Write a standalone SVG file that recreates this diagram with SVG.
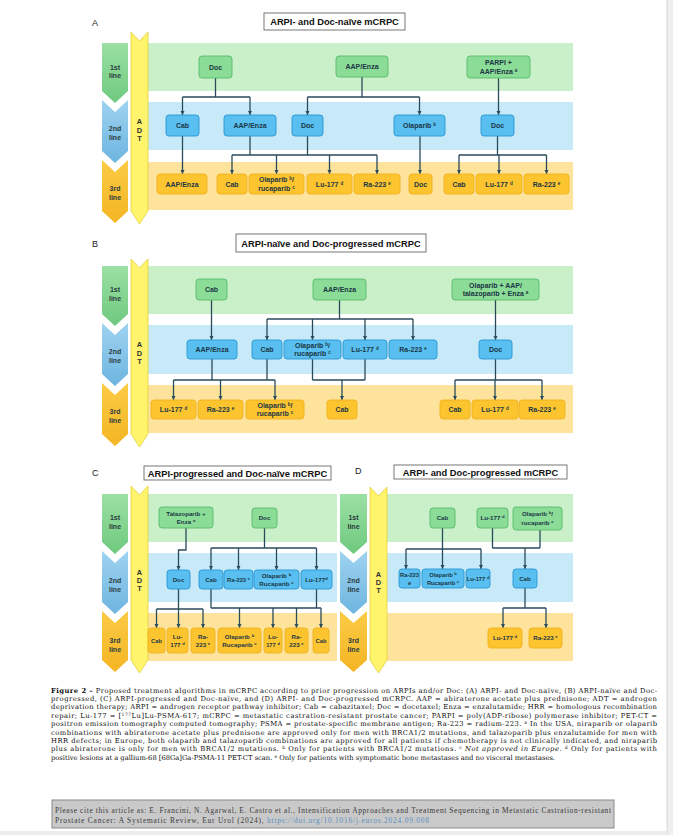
<svg xmlns="http://www.w3.org/2000/svg" width="673" height="835" viewBox="0 0 673 835">
<defs>
<marker id="ah" viewBox="0 0 6 6" refX="6" refY="3" markerWidth="4.5" markerHeight="4.5" markerUnits="userSpaceOnUse" orient="auto"><path d="M0,0 L6,3 L0,6 Z" fill="#2a4b5b"/></marker>
<linearGradient id="gg" x1="0" y1="0" x2="0" y2="1"><stop offset="0" stop-color="#9be0a4"/><stop offset="1" stop-color="#6fc97e"/></linearGradient>
<linearGradient id="gb" x1="0" y1="0" x2="0" y2="1"><stop offset="0" stop-color="#9fd3f0"/><stop offset="1" stop-color="#6db5e0"/></linearGradient>
<linearGradient id="go" x1="0" y1="0" x2="0" y2="1"><stop offset="0" stop-color="#fbcb45"/><stop offset="1" stop-color="#f4b523"/></linearGradient>
<style>
.bgg{fill:#c9f0c9}.bgb{fill:#c7e9f8}.bgo{fill:#fde39c}
.cg{fill:url(#gg)}.cb{fill:url(#gb)}.co{fill:url(#go)}
.adt{fill:#fff46c;stroke:#e2cf3e;stroke-width:0.8}
.ng{fill:#8bdc97;stroke:#58bb6a;stroke-width:0.9}
.nb{fill:#58bff0;stroke:#2996d3;stroke-width:0.9}
.no{fill:#fcc52f;stroke:#efb220;stroke-width:0.9}
.t{font-family:"Liberation Sans",Arial,sans-serif;font-size:7px;font-weight:bold;fill:#1c3745;text-anchor:middle}
.t2{font-family:"Liberation Sans",Arial,sans-serif;font-size:6.2px;font-weight:bold;fill:#1c3745;text-anchor:middle}
.t3{font-family:"Liberation Sans",Arial,sans-serif;font-size:5.8px;font-weight:bold;fill:#1c3745;text-anchor:middle}
.lab{font-family:"Liberation Sans",Arial,sans-serif;font-size:7px;font-weight:bold;fill:#2b3b3f;text-anchor:middle}
.adtt{font-family:"Liberation Sans",Arial,sans-serif;font-size:7.4px;font-weight:bold;fill:#333;text-anchor:middle}
.ttl{font-family:"Liberation Sans",Arial,sans-serif;font-size:9.3px;font-weight:bold;fill:#111;text-anchor:middle}
.tbox{fill:#fff;stroke:#555;stroke-width:0.8}
.pl{font-family:"Liberation Sans",Arial,sans-serif;font-size:9px;fill:#222}
.ln{fill:none;stroke:#2a4b5b;stroke-width:1.3}
.ar{fill:none;stroke:#2a4b5b;stroke-width:1.3;marker-end:url(#ah)}
.cap{font-family:"DejaVu Serif",serif;font-size:6.8px;fill:#0d0d0d}
.cit{font-family:"Liberation Serif",serif;font-size:7.4px;fill:#3a3a3a}
.lnk{fill:#5b8fc2}
</style>
</defs>
<rect width="673" height="835" fill="#ffffff"/>
<rect x="667" y="0" width="6" height="835" fill="#efefef"/>
<line x1="667" y1="0" x2="667" y2="835" stroke="#d6d6d6" stroke-width="1"/>
<rect x="0" y="831" width="667" height="4" fill="#ececec"/>

<!-- ============ PANEL A ============ -->
<g id="panelA-frame">
<text class="pl" x="92" y="26">A</text>
<rect class="tbox" x="264" y="13" width="141" height="17"/>
<text class="ttl" x="334.5" y="25">ARPI- and Doc-naïve mCRPC</text>
<rect class="bgg" x="140" y="43" width="433" height="48"/>
<rect class="bgb" x="140" y="102" width="433" height="48"/>
<rect class="bgo" x="140" y="162" width="433" height="48"/>
<path class="cg" d="M102,43 H128 V91 L115,103 L102,91 Z"/>
<path class="cb" d="M102,100 L115,112 L128,100 V151 L115,163 L102,151 Z"/>
<path class="co" d="M102,160 L115,172 L128,160 V211 L115,223 L102,211 Z"/>
<text class="lab" x="115" y="69.5">1st</text><text class="lab" x="115" y="78">line</text>
<text class="lab" x="115" y="130.5">2nd</text><text class="lab" x="115" y="139.5">line</text>
<text class="lab" x="115" y="190.5">3rd</text><text class="lab" x="115" y="199.5">line</text>
<path class="adt" d="M131,32 L139.5,41 L148,32 V211 L139.5,224 L131,211 Z"/>
<text class="adtt" x="139.5" y="124">A</text><text class="adtt" x="139.5" y="132.5">D</text><text class="adtt" x="139.5" y="141">T</text>
</g>
<g id="panelA-connectors">
<path class="ln" d="M215.5,78 V97 M182.5,97 H250"/>
<path class="ar" d="M182.5,97 V115"/><path class="ar" d="M250,97 V115"/>
<path class="ln" d="M362,77 V97 M307.5,97 H419.5"/>
<path class="ar" d="M307.5,97 V115"/><path class="ar" d="M419.5,97 V115"/>
<path class="ar" d="M498.5,78 V115"/>
<path class="ar" d="M182.5,136 V174"/>
<path class="ln" d="M250,136 V155 M307.5,136 V155 M232,155 H377"/>
<path class="ar" d="M232,155 V174"/><path class="ar" d="M276.5,155 V174"/><path class="ar" d="M329.5,155 V174"/><path class="ar" d="M377,155 V174"/>
<path class="ar" d="M420,136 V174"/>
<path class="ln" d="M497.5,136 V155 M459,155 H546.5"/>
<path class="ar" d="M459,155 V174"/><path class="ar" d="M499,155 V174"/><path class="ar" d="M546.5,155 V174"/>
</g>
<g id="a1-doc"><rect class="ng" x="199" y="56" width="33" height="22" rx="3"/><text class="t" x="215.5" y="69.5">Doc</text></g>
<g id="a1-aapenza"><rect class="ng" x="336" y="56" width="52" height="21" rx="3"/><text class="t" x="362" y="69">AAP/Enza</text></g>
<g id="a1-parpi"><rect class="ng" x="467" y="56" width="63" height="22" rx="3"/><text class="t" x="498.5" y="65.3">PARPI +</text><text class="t" x="498.5" y="74">AAP/Enza <tspan font-size="4.5" baseline-shift="super">a</tspan></text></g>
<g id="a2-cab"><rect class="nb" x="166" y="115" width="33" height="21" rx="3"/><text class="t" x="182.5" y="128">Cab</text></g>
<g id="a2-aapenza"><rect class="nb" x="224" y="115" width="52" height="21" rx="3"/><text class="t" x="250" y="128">AAP/Enza</text></g>
<g id="a2-doc"><rect class="nb" x="292" y="115" width="31" height="21" rx="3"/><text class="t" x="307.5" y="128">Doc</text></g>
<g id="a2-olaparib"><rect class="nb" x="394" y="115" width="51" height="21" rx="3"/><text class="t" x="419.5" y="128">Olaparib <tspan font-size="4.5" baseline-shift="super">b</tspan></text></g>
<g id="a2-doc2"><rect class="nb" x="481" y="115" width="33" height="21" rx="3"/><text class="t" x="497.5" y="128">Doc</text></g>
<g id="a3-aapenza"><rect class="no" x="157" y="174" width="50" height="20" rx="3"/><text class="t" x="182" y="186.5">AAP/Enza</text></g>
<g id="a3-cab"><rect class="no" x="217" y="174" width="30" height="20" rx="3"/><text class="t" x="232" y="186.5">Cab</text></g>
<g id="a3-olaruca"><rect class="no" x="249" y="174" width="55" height="20" rx="3"/><text class="t" x="276.5" y="182.3">Olaparib <tspan font-size="4.5" baseline-shift="super">b</tspan>/</text><text class="t" x="276.5" y="190.8">rucaparib <tspan font-size="4.5" baseline-shift="super">c</tspan></text></g>
<g id="a3-lu"><rect class="no" x="307" y="174" width="45" height="20" rx="3"/><text class="t" x="329.5" y="186.5">Lu-177 <tspan font-size="4.5" baseline-shift="super">d</tspan></text></g>
<g id="a3-ra"><rect class="no" x="354" y="174" width="46" height="20" rx="3"/><text class="t" x="377" y="186.5">Ra-223 <tspan font-size="4.5" baseline-shift="super">e</tspan></text></g>
<g id="a3-doc"><rect class="no" x="409" y="174" width="23" height="20" rx="3"/><text class="t" x="420.5" y="186.5">Doc</text></g>
<g id="a3-cab2"><rect class="no" x="444" y="174" width="30" height="20" rx="3"/><text class="t" x="459" y="186.5">Cab</text></g>
<g id="a3-lu2"><rect class="no" x="476" y="174" width="46" height="20" rx="3"/><text class="t" x="499" y="186.5">Lu-177 <tspan font-size="4.5" baseline-shift="super">d</tspan></text></g>
<g id="a3-ra2"><rect class="no" x="524" y="174" width="45" height="20" rx="3"/><text class="t" x="546.5" y="186.5">Ra-223 <tspan font-size="4.5" baseline-shift="super">e</tspan></text></g>

<!-- ============ PANEL B ============ -->
<g id="panelB-frame">
<text class="pl" x="92" y="247">B</text>
<rect class="tbox" x="236" y="234" width="190" height="18"/>
<text class="ttl" x="331" y="246.5">ARPI-naïve and Doc-progressed mCRPC</text>
<rect class="bgg" x="140" y="266" width="433" height="48"/>
<rect class="bgb" x="140" y="325" width="433" height="49"/>
<rect class="bgo" x="140" y="385" width="433" height="48"/>
<path class="cg" d="M102,266 H128 V314 L115,326 L102,314 Z"/>
<path class="cb" d="M102,323 L115,335 L128,323 V374 L115,386 L102,374 Z"/>
<path class="co" d="M102,383 L115,395 L128,383 V434 L115,446 L102,434 Z"/>
<text class="lab" x="115" y="291.5">1st</text><text class="lab" x="115" y="300.5">line</text>
<text class="lab" x="115" y="353.5">2nd</text><text class="lab" x="115" y="363">line</text>
<text class="lab" x="115" y="413.5">3rd</text><text class="lab" x="115" y="423">line</text>
<path class="adt" d="M131,259 L139.5,268 L148,259 V434 L139.5,447 L131,434 Z"/>
<text class="adtt" x="139.5" y="347">A</text><text class="adtt" x="139.5" y="355.5">D</text><text class="adtt" x="139.5" y="364">T</text>
</g>
<g id="panelB-connectors">
<path class="ar" d="M211.5,300 V340"/>
<path class="ln" d="M339.5,300 V319 M267,319 H413"/>
<path class="ar" d="M267,319 V340"/><path class="ar" d="M312.5,319 V340"/><path class="ar" d="M365,319 V340"/><path class="ar" d="M413,319 V340"/>
<path class="ar" d="M495.5,300 V340"/>
<path class="ln" d="M212,359 V380 M267,359 V380 M173.5,380 H275"/>
<path class="ar" d="M173.5,380 V400"/><path class="ar" d="M220.5,380 V400"/><path class="ar" d="M275,380 V400"/>
<path class="ln" d="M312.5,359 V380 M365,359 V380 M312.5,380 H365"/>
<path class="ar" d="M342,380 V400"/>
<path class="ln" d="M495.5,359 V380 M455,380 H542"/>
<path class="ar" d="M455,380 V400"/><path class="ar" d="M495,380 V400"/><path class="ar" d="M542,380 V400"/>
</g>
<g id="b1-cab"><rect class="ng" x="196" y="279" width="31" height="21" rx="3"/><text class="t" x="211.5" y="292">Cab</text></g>
<g id="b1-aapenza"><rect class="ng" x="313" y="279" width="53" height="21" rx="3"/><text class="t" x="339.5" y="292">AAP/Enza</text></g>
<g id="b1-olaaap"><rect class="ng" x="452" y="279" width="87" height="21" rx="3"/><text class="t" x="495.5" y="287.6">Olaparib + AAP/</text><text class="t" x="495.5" y="296.2">talazoparib + Enza <tspan font-size="4.5" baseline-shift="super">a</tspan></text></g>
<g id="b2-aapenza"><rect class="nb" x="187" y="340" width="50" height="19" rx="3"/><text class="t" x="212" y="352">AAP/Enza</text></g>
<g id="b2-cab"><rect class="nb" x="252" y="340" width="30" height="19" rx="3"/><text class="t" x="267" y="352">Cab</text></g>
<g id="b2-olaruca"><rect class="nb" x="284" y="340" width="57" height="19" rx="3"/><text class="t" x="312.5" y="347.8">Olaparib <tspan font-size="4.5" baseline-shift="super">b</tspan>/</text><text class="t" x="312.5" y="356.3">rucaparib <tspan font-size="4.5" baseline-shift="super">c</tspan></text></g>
<g id="b2-lu"><rect class="nb" x="343" y="340" width="44" height="19" rx="3"/><text class="t" x="365" y="352">Lu-177 <tspan font-size="4.5" baseline-shift="super">d</tspan></text></g>
<g id="b2-ra"><rect class="nb" x="389" y="340" width="48" height="19" rx="3"/><text class="t" x="413" y="352">Ra-223 <tspan font-size="4.5" baseline-shift="super">e</tspan></text></g>
<g id="b2-doc"><rect class="nb" x="479" y="340" width="33" height="19" rx="3"/><text class="t" x="495.5" y="352">Doc</text></g>
<g id="b3-lu"><rect class="no" x="151" y="400" width="45" height="19" rx="3"/><text class="t" x="173.5" y="412">Lu-177 <tspan font-size="4.5" baseline-shift="super">d</tspan></text></g>
<g id="b3-ra"><rect class="no" x="198" y="400" width="45" height="19" rx="3"/><text class="t" x="220.5" y="412">Ra-223 <tspan font-size="4.5" baseline-shift="super">e</tspan></text></g>
<g id="b3-olaruca"><rect class="no" x="246" y="400" width="58" height="19" rx="3"/><text class="t" x="275" y="407.8">Olaparib <tspan font-size="4.5" baseline-shift="super">b</tspan>/</text><text class="t" x="275" y="416.3">rucaparib <tspan font-size="4.5" baseline-shift="super">c</tspan></text></g>
<g id="b3-cab"><rect class="no" x="327" y="400" width="30" height="19" rx="3"/><text class="t" x="342" y="412">Cab</text></g>
<g id="b3-cab2"><rect class="no" x="440" y="400" width="30" height="19" rx="3"/><text class="t" x="455" y="412">Cab</text></g>
<g id="b3-lu2"><rect class="no" x="472" y="400" width="46" height="19" rx="3"/><text class="t" x="495" y="412">Lu-177 <tspan font-size="4.5" baseline-shift="super">d</tspan></text></g>
<g id="b3-ra2"><rect class="no" x="519" y="400" width="46" height="19" rx="3"/><text class="t" x="542" y="412">Ra-223 <tspan font-size="4.5" baseline-shift="super">e</tspan></text></g>

<!-- ============ PANEL C ============ -->
<g id="panelC-frame">
<text class="pl" x="92" y="476">C</text>
<rect class="tbox" x="144" y="466" width="187" height="14"/>
<text class="ttl" x="237.5" y="476.5">ARPI-progressed and Doc-naïve mCRPC</text>
<rect class="bgg" x="140" y="494" width="197" height="48"/>
<rect class="bgb" x="140" y="553" width="197" height="49"/>
<rect class="bgo" x="140" y="613" width="197" height="48"/>
<path class="cg" d="M102,494 H128 V542 L115,554 L102,542 Z"/>
<path class="cb" d="M102,551 L115,563 L128,551 V602 L115,614 L102,602 Z"/>
<path class="co" d="M102,611 L115,623 L128,611 V660 L115,672 L102,660 Z"/>
<text class="lab" x="115" y="519.5">1st</text><text class="lab" x="115" y="528.5">line</text>
<text class="lab" x="115" y="582.5">2nd</text><text class="lab" x="115" y="591.5">line</text>
<text class="lab" x="115" y="642.5">3rd</text><text class="lab" x="115" y="651.5">line</text>
<path class="adt" d="M131,486 L139.5,495 L148,486 V660 L139.5,673 L131,660 Z"/>
<text class="adtt" x="139.5" y="575">A</text><text class="adtt" x="139.5" y="583">D</text><text class="adtt" x="139.5" y="591">T</text>
</g>
<g id="panelC-connectors">
<path class="ar" d="M186,528 V550 H178.5 V570"/>
<path class="ln" d="M264.5,528 V548 M211,548 H316.5"/>
<path class="ar" d="M211,548 V570"/><path class="ar" d="M238.5,548 V570"/><path class="ar" d="M276.5,548 V570"/><path class="ar" d="M316.5,548 V570"/>
<path class="ln" d="M178.5,589 V609 M156.5,609 H203"/>
<path class="ar" d="M156.5,609 V628"/><path class="ar" d="M178.5,609 V628"/><path class="ar" d="M203,609 V628"/>
<path class="ln" d="M211,589 V608 M316.5,589 V608 M211,608 H321"/>
<path class="ar" d="M239.5,608 V628"/><path class="ar" d="M273,608 V628"/><path class="ar" d="M296.5,608 V628"/><path class="ar" d="M321,608 V628"/>
</g>
<g id="c1-talaenza"><rect class="ng" x="159" y="507" width="54" height="21" rx="3"/><text class="t2" x="186" y="515.5">Talazoparib +</text><text class="t2" x="186" y="523.8">Enza <tspan font-size="4.2" baseline-shift="super">a</tspan></text></g>
<g id="c1-doc"><rect class="ng" x="252" y="508" width="25" height="20" rx="3"/><text class="t2" x="264.5" y="520.3">Doc</text></g>
<g id="c2-doc"><rect class="nb" x="167" y="570" width="23" height="19" rx="3"/><text class="t2" x="178.5" y="581.8">Doc</text></g>
<g id="c2-cab"><rect class="nb" x="199" y="570" width="24" height="19" rx="3"/><text class="t2" x="211" y="581.8">Cab</text></g>
<g id="c2-ra"><rect class="nb" x="224" y="570" width="29" height="19" rx="3"/><text class="t3" x="238.5" y="581.8">Ra-223 <tspan font-size="4" baseline-shift="super">e</tspan></text></g>
<g id="c2-olaruca"><rect class="nb" x="254" y="570" width="45" height="19" rx="3"/><text class="t2" x="276.5" y="577.8">Olaparib <tspan font-size="4.2" baseline-shift="super">b</tspan></text><text class="t2" x="276.5" y="585.6">Rucaparib <tspan font-size="4.2" baseline-shift="super">c</tspan></text></g>
<g id="c2-lu"><rect class="nb" x="301" y="570" width="31" height="19" rx="3"/><text class="t2" x="316.5" y="581.8">Lu-177<tspan font-size="4.2" baseline-shift="super">d</tspan></text></g>
<g id="c3-cab"><rect class="no" x="148" y="628" width="17" height="25" rx="3"/><text class="t3" x="156.5" y="642.6">Cab</text></g>
<g id="c3-lu"><rect class="no" x="167" y="628" width="21" height="25" rx="3"/><text class="t2" x="177.5" y="638.5">Lu-</text><text class="t2" x="177.5" y="647.2">177 <tspan font-size="4.2" baseline-shift="super">d</tspan></text></g>
<g id="c3-ra"><rect class="no" x="191" y="628" width="24" height="25" rx="3"/><text class="t2" x="203" y="638.5">Ra-</text><text class="t2" x="203" y="647.2">223 <tspan font-size="4.2" baseline-shift="super">e</tspan></text></g>
<g id="c3-olaruca"><rect class="no" x="218" y="628" width="43" height="25" rx="3"/><text class="t2" x="239.5" y="638.5">Olaparib <tspan font-size="4.2" baseline-shift="super">b</tspan></text><text class="t2" x="239.5" y="647.2">Rucaparib <tspan font-size="4.2" baseline-shift="super">c</tspan></text></g>
<g id="c3-lu2"><rect class="no" x="264" y="628" width="18" height="25" rx="3"/><text class="t2" x="273" y="638.5">Lu-</text><text class="t3" x="273" y="647.2">177 <tspan font-size="4" baseline-shift="super">d</tspan></text></g>
<g id="c3-ra2"><rect class="no" x="285" y="628" width="23" height="25" rx="3"/><text class="t2" x="296.5" y="638.5">Ra-</text><text class="t2" x="296.5" y="647.2">223 <tspan font-size="4.2" baseline-shift="super">e</tspan></text></g>
<g id="c3-cab2"><rect class="no" x="313" y="628" width="16" height="25" rx="3"/><text class="t3" x="321" y="642.6">Cab</text></g>

<!-- ============ PANEL D ============ -->
<g id="panelD-frame">
<text class="pl" x="355" y="474">D</text>
<rect class="tbox" x="394" y="465" width="173" height="14"/>
<text class="ttl" x="480.5" y="475.5">ARPI- and Doc-progressed mCRPC</text>
<rect class="bgg" x="379" y="494" width="194" height="48"/>
<rect class="bgb" x="379" y="553" width="194" height="49"/>
<rect class="bgo" x="379" y="613" width="194" height="48"/>
<path class="cg" d="M340,494 H367 V542 L353.5,554 L340,542 Z"/>
<path class="cb" d="M340,551 L353.5,563 L367,551 V602 L353.5,614 L340,602 Z"/>
<path class="co" d="M340,611 L353.5,623 L367,611 V660 L353.5,672 L340,660 Z"/>
<text class="lab" x="353.5" y="520">1st</text><text class="lab" x="353.5" y="529">line</text>
<text class="lab" x="353.5" y="582.5">2nd</text><text class="lab" x="353.5" y="591.5">line</text>
<text class="lab" x="353.5" y="642.5">3rd</text><text class="lab" x="353.5" y="651.5">line</text>
<path class="adt" d="M370,487 L378.5,496 L387,487 V660 L378.5,673 L370,660 Z"/>
<text class="adtt" x="378.5" y="577">A</text><text class="adtt" x="378.5" y="585">D</text><text class="adtt" x="378.5" y="593">T</text>
</g>
<g id="panelD-connectors">
<path class="ln" d="M442.5,528 V549 M406,549 H481"/>
<path class="ar" d="M406,549 V569"/><path class="ar" d="M442.5,549 V569"/><path class="ar" d="M481,549 V569"/>
<path class="ln" d="M492.5,528 V548 M540,530 V548 M492.5,548 H540"/>
<path class="ar" d="M525,548 V569"/>
<path class="ln" d="M525,588 V608 M503,608 H546"/>
<path class="ar" d="M503,608 V628"/><path class="ar" d="M546,608 V628"/>
</g>
<g id="d1-cab"><rect class="ng" x="430" y="508" width="25" height="20" rx="3"/><text class="t2" x="442.5" y="520.3">Cab</text></g>
<g id="d1-lu"><rect class="ng" x="477" y="508" width="31" height="20" rx="3"/><text class="t2" x="492.5" y="520.3">Lu-177 <tspan font-size="4.2" baseline-shift="super">d</tspan></text></g>
<g id="d1-olaruca"><rect class="ng" x="513" y="507" width="49" height="23" rx="3"/><text class="t2" x="537.5" y="516.3">Olaparib <tspan font-size="4.2" baseline-shift="super">b</tspan>/</text><text class="t2" x="537.5" y="524.8">rucaparib <tspan font-size="4.2" baseline-shift="super">c</tspan></text></g>
<g id="d2-ra"><rect class="nb" x="399" y="569" width="21" height="19" rx="3"/><text class="t3" x="409.5" y="577">Ra-223</text><text class="t3" x="409.5" y="585">e</text></g>
<g id="d2-olaruca"><rect class="nb" x="422" y="569" width="42" height="19" rx="3"/><text class="t3" x="443" y="577">Olaparib <tspan font-size="4" baseline-shift="super">b</tspan></text><text class="t3" x="443" y="584.6">Rucaparib <tspan font-size="4" baseline-shift="super">c</tspan></text></g>
<g id="d2-lu"><rect class="nb" x="466" y="569" width="24" height="19" rx="3"/><text class="t3" x="478" y="580.8">Lu-177 <tspan font-size="4" baseline-shift="super">d</tspan></text></g>
<g id="d2-cab"><rect class="nb" x="513" y="569" width="24" height="19" rx="3"/><text class="t2" x="525" y="580.8">Cab</text></g>
<g id="d3-lu"><rect class="no" x="488" y="628" width="34" height="20" rx="3"/><text class="t2" x="505" y="640.3">Lu-177 <tspan font-size="4.2" baseline-shift="super">d</tspan></text></g>
<g id="d3-ra"><rect class="no" x="529" y="628" width="33" height="20" rx="3"/><text class="t2" x="545.5" y="640.3">Ra-223 <tspan font-size="4.2" baseline-shift="super">e</tspan></text></g>

<!-- ============ CAPTION ============ -->
<g id="caption">
<text class="cap" x="51" y="692.5" textLength="606" lengthAdjust="spacing"><tspan font-weight="bold">Figure 2 –</tspan> Proposed treatment algorithms in mCRPC according to prior progression on ARPIs and/or Doc: (A) ARPI- and Doc-naïve, (B) ARPI-naïve and Doc-</text>
<text class="cap" x="51" y="700.9" textLength="606" lengthAdjust="spacing">progressed, (C) ARPI-progressed and Doc-naïve, and (D) ARPI- and Doc-progressed mCRPC. AAP = abiraterone acetate plus prednisone; ADT = androgen</text>
<text class="cap" x="51" y="709.3" textLength="606" lengthAdjust="spacing">deprivation therapy; ARPI = androgen receptor pathway inhibitor; Cab = cabazitaxel; Doc = docetaxel; Enza = enzalutamide; HRR = homologous recombination</text>
<text class="cap" x="51" y="717.7" textLength="606" lengthAdjust="spacing">repair; Lu-177 = [<tspan font-size="4.5" baseline-shift="super">177</tspan>Lu]Lu-PSMA-617; mCRPC = metastatic castration-resistant prostate cancer; PARPI = poly(ADP-ribose) polymerase inhibitor; PET-CT =</text>
<text class="cap" x="51" y="726.1" textLength="606" lengthAdjust="spacing">positron emission tomography computed tomography; PSMA = prostate-specific membrane antigen; Ra-223 = radium-223. <tspan font-size="4.5" baseline-shift="super">a</tspan> In the USA, niraparib or olaparib</text>
<text class="cap" x="51" y="734.5" textLength="606" lengthAdjust="spacing">combinations with abiraterone acetate plus prednisone are approved only for men with BRCA1/2 mutations, and talazoparib plus enzalutamide for men with</text>
<text class="cap" x="51" y="742.9" textLength="606" lengthAdjust="spacing">HRR defects; in Europe, both olaparib and talazoparib combinations are approved for all patients if chemotherapy is not clinically indicated, and niraparib</text>
<text class="cap" x="51" y="751.3" textLength="606" lengthAdjust="spacing">plus abiraterone is only for men with BRCA1/2 mutations. <tspan font-size="4.5" baseline-shift="super">b</tspan> Only for patients with BRCA1/2 mutations. <tspan font-size="4.5" baseline-shift="super">c</tspan> <tspan font-style="italic">Not approved in Europe.</tspan> <tspan font-size="4.5" baseline-shift="super">d</tspan> Only for patients with</text>
<text class="cap" x="51" y="759.7" textLength="504" lengthAdjust="spacing">positive lesions at a gallium-68 [68Ga]Ga-PSMA-11 PET-CT scan. <tspan font-size="4.5" baseline-shift="super">e</tspan> Only for patients with symptomatic bone metastases and no visceral metastases.</text>
</g>

<!-- ============ CITATION ============ -->
<g id="citation">
<rect x="52" y="800" width="562" height="28" fill="#c9c9c9" stroke="#8a8a8a" stroke-width="1"/>
<text class="cit" x="55" y="812.5" textLength="556" lengthAdjust="spacing">Please cite this article as: E. Francini, N. Agarwal, E. Castro et al., Intensification Approaches and Treatment Sequencing in Metastatic Castration-resistant</text>
<text class="cit" x="55" y="823" textLength="374" lengthAdjust="spacing">Prostate Cancer: A Systematic Review, Eur Urol (2024), <tspan class="lnk">https://doi.org/10.1016/j.euros.2024.09.008</tspan></text>
</g>
</svg>
